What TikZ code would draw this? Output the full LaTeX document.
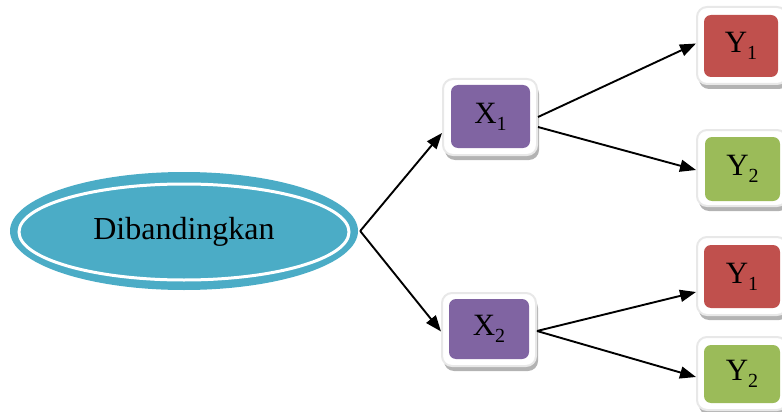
\documentclass[tikz,border=0pt]{standalone}
\usepackage{fontspec}
\setmainfont{Liberation Serif}
\usetikzlibrary{shadows,arrows.meta,shapes.geometric}
\definecolor{ellteal}{HTML}{4BACC6}
\definecolor{boxpurple}{HTML}{8064A2}
\definecolor{boxred}{HTML}{C0504D}
\definecolor{boxgreen}{HTML}{9BBB59}
\begin{document}
\begin{tikzpicture}[x=1pt,y=-1pt,
  frame/.style={draw=black!9, line width=2pt, fill=white, rounded corners=10pt,
    inner sep=0pt, drop shadow={shadow xshift=2pt, shadow yshift=-5pt, fill=black!50, opacity=0.6}},
  inbox/.style={rounded corners=7pt, inner sep=0pt,
    font=\fontsize{31}{31}\selectfont},
  arr/.style={line width=1.9pt, -{Triangle[length=16pt,width=12pt]}}]
\useasboundingbox (0,0) rectangle (782,412);

% ellipse
\node[ellipse, fill=ellteal, minimum width=348pt, minimum height=118pt, inner sep=0pt] (E) at (184,231) {};
\node[ellipse, draw=white, line width=3pt, minimum width=330pt, minimum height=96pt, inner sep=0pt,
  font=\fontsize{32}{32}\selectfont] (Ei) at (184,232) {Dibandingkan};

% frames
\node[frame, minimum width=94pt, minimum height=76pt] (X1) at (490,117) {};
\node[inbox, fill=boxpurple, minimum width=79pt, minimum height=63pt] (X1i) at (490.5,116.5) {X\raisebox{-0.22em}{\fontsize{20}{20}\selectfont 1}};

\node[frame, minimum width=94pt, minimum height=73pt] (X2) at (489,329.5) {};
\node[inbox, fill=boxpurple, minimum width=80pt, minimum height=60pt] (X2i) at (489,329) {X\raisebox{-0.22em}{\fontsize{20}{20}\selectfont 2}};

\node[frame, minimum width=90pt, minimum height=77pt] (Y1a) at (742,45.5) {};
\node[inbox, fill=boxred, minimum width=74pt, minimum height=62pt] (Y1ai) at (741,46) {Y\raisebox{-0.22em}{\fontsize{20}{20}\selectfont 1}};

\node[frame, minimum width=90pt, minimum height=76pt] (Y2a) at (742,168) {};
\node[inbox, fill=boxgreen, minimum width=75pt, minimum height=64pt] (Y2ai) at (742.5,169) {Y\raisebox{-0.22em}{\fontsize{20}{20}\selectfont 2}};

\node[frame, minimum width=90pt, minimum height=78pt] (Y1b) at (742,276) {};
\node[inbox, fill=boxred, minimum width=76pt, minimum height=63pt] (Y1bi) at (742,276.5) {Y\raisebox{-0.22em}{\fontsize{20}{20}\selectfont 1}};

\node[frame, minimum width=90pt, minimum height=73pt] (Y2b) at (742,373.5) {};
\node[inbox, fill=boxgreen, minimum width=76pt, minimum height=58pt] (Y2bi) at (742,374) {Y\raisebox{-0.22em}{\fontsize{20}{20}\selectfont 2}};

% arrows
\draw[arr] ([xshift=2pt]E.east) -- ([yshift=-16pt]X1.west);
\draw[arr] ([xshift=2pt]E.east) -- ([yshift=-2pt]X2.west);
\draw[arr] (X1.east) -- ([yshift=2pt]Y1a.west);
\draw[arr] ([yshift=-10pt]X1.east) -- ([yshift=-2pt]Y2a.west);
\draw[arr] ([yshift=-1.5pt]X2.east) -- ([yshift=-16pt]Y1b.west);
\draw[arr] ([yshift=-1.5pt]X2.east) -- ([yshift=-3.5pt]Y2b.west);
\end{tikzpicture}
\end{document}
